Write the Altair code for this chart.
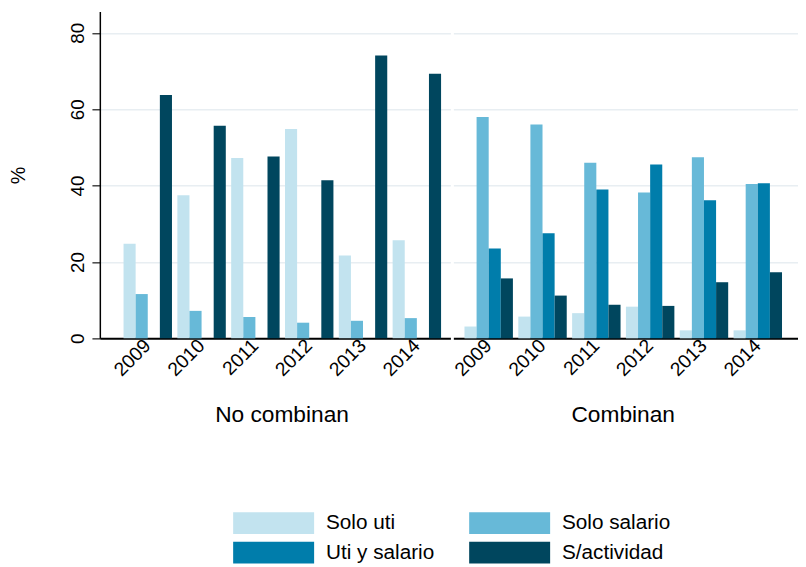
import altair as alt
import pandas as pd

years = ["2009", "2010", "2011", "2012", "2013", "2014"]
series = ["Solo uti", "Solo salario", "Uti y salario", "S/actividad"]
colors = ["#c2e3ef", "#67b9d8", "#007dab", "#00465e"]

# No combinan
nc_solo_uti = [24.8, 37.5, 47.2, 54.8, 21.7, 25.7]
nc_solo_salario = [11.6, 7.2, 5.6, 4.1, 4.6, 5.3]
nc_sin_actividad = [63.7, 55.7, 47.6, 41.4, 74.1, 69.3]

# Combinan
c_solo_uti = [3.1, 5.7, 6.6, 8.3, 2.1, 2.1]
c_solo_salario = [58.0, 56.0, 46.0, 38.2, 47.4, 40.4]
c_uti_salario = [23.5, 27.5, 39.0, 45.5, 36.2, 40.6]
c_sin_actividad = [15.7, 11.2, 8.8, 8.5, 14.7, 17.3]


def make_df(cols):
    rows = []
    for name, vals in cols:
        for y, v in zip(years, vals):
            rows.append({"year": y, "series": name, "value": v})
    return pd.DataFrame(rows)


df_nc = make_df([("Solo uti", nc_solo_uti), ("Solo salario", nc_solo_salario),
                 ("S/actividad", nc_sin_actividad)])
df_c = make_df([("Solo uti", c_solo_uti), ("Solo salario", c_solo_salario),
                ("Uti y salario", c_uti_salario), ("S/actividad", c_sin_actividad)])

legend = alt.Legend(
    orient="none", legendX=165, legendY=507, columns=2, direction="horizontal",
    title=None,
    symbolType="M-3.727,-1H3.727V1H-3.727Z", symbolSize=484, symbolStrokeWidth=0,
    symbolOpacity=1, labelFontSize=21, labelOffset=42, columnPadding=35,
    rowPadding=8, padding=0, labelColor="black", labelLimit=300,
)

yvals = [0, 20, 40, 60, 80]


def panel(df, title, width, po, align, show_y, title_x):
    if show_y:
        y_axis = alt.Axis(values=yvals, title="%", titleAngle=270, titleX=-82,
                          titleY=165.5, titleAlign="center", titleBaseline="middle",
                          titleFontSize=20, titleFontWeight="normal",
                          labelAngle=270, labelAlign="center", labelBaseline="bottom",
                          labelPadding=5, labelFontSize=19, labelColor="black",
                          tickSize=8, tickWidth=1.5, tickColor="#444",
                          domainColor="black", domainWidth=1.5, grid=True)
    else:
        y_axis = alt.Axis(values=yvals, grid=True, labels=False, ticks=False,
                          domain=False, title=None)
    return alt.Chart(df).mark_bar().encode(
        x=alt.X("year:N", sort=years,
                scale=alt.Scale(paddingInner=0.1, paddingOuter=po, align=align),
                axis=alt.Axis(title=title, labelAngle=315, labelAlign="right",
                              labelBaseline="middle", ticks=False, labelPadding=4,
                              labelFontSize=19.5, labelColor="black",
                              titleX=title_x, titleY=77, titleBaseline="middle",
                              titleAlign="center", titleFontSize=23,
                              titleFontWeight="normal", domainColor="black",
                              domainWidth=2, grid=False)),
        xOffset=alt.XOffset("series:N", sort=series,
                            scale=alt.Scale(domain=series, paddingInner=0, paddingOuter=0)),
        y=alt.Y("value:Q", scale=alt.Scale(domain=[0, 85.6], nice=False), axis=y_axis),
        color=alt.Color("series:N", scale=alt.Scale(domain=series, range=colors),
                        legend=legend),
    ).properties(width=width, height=331)


c1 = panel(df_nc, "No combinan", 355, 0.3069, 0.7175, True, 184)
c2 = panel(df_c, "Combinan", 349, 0.2518, 0.41, False, 171.5)

chart = alt.hconcat(c1, c2, spacing=0).properties(
    padding={"left": 1, "top": 0, "right": 0, "bottom": 0}
).configure(font="Liberation Sans").configure_view(stroke=None).configure_axis(
    gridColor="#e8eef2", gridWidth=1.5
)

chart.save("out.html", embed_options={"renderer": "svg", "actions": False})
